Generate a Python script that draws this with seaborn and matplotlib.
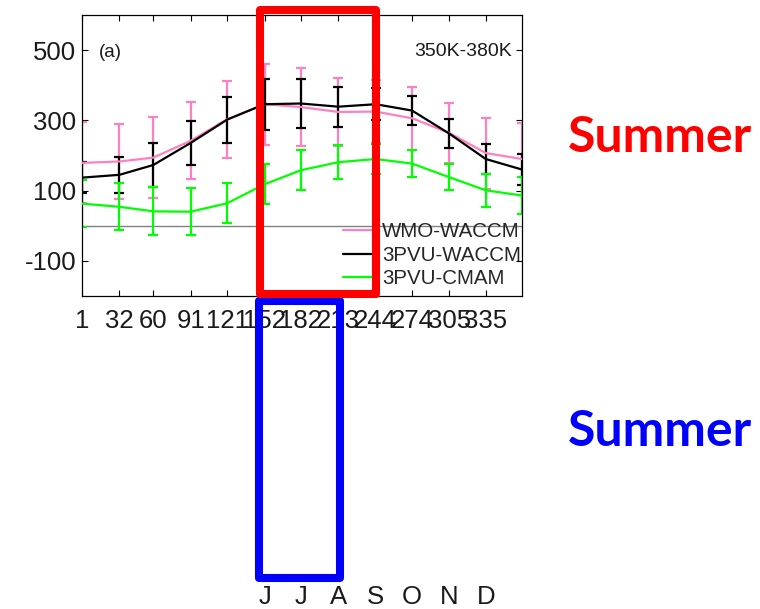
import matplotlib
matplotlib.use("Agg")
import matplotlib.pyplot as plt
from matplotlib.patches import Rectangle
import seaborn as sns

# Day-of-year sample points (first day of each month, plus year end)
days = [1, 32, 60, 91, 121, 152, 182, 213, 244, 274, 305, 335, 365]

# Monthly mean values and error half-widths for each series
wmo_waccm_mean = [179, 183, 194, 242, 303, 346, 338, 324, 325, 306, 264, 207, 190]
wmo_waccm_err = [115, 108, 116, 110, 110, 115, 112, 97, 90, 89, 86, 101, 103]
pvu_waccm_mean = [137, 145, 173, 236, 302, 346, 348, 339, 346, 328, 262, 190, 160]
pvu_waccm_err = [45, 51, 62, 63, 65, 73, 70, 57, 45, 41, 42, 44, 44]
pvu_cmam_mean = [63, 54, 41, 40, 64, 118, 158, 181, 190, 177, 138, 101, 86]
pvu_cmam_err = [66, 67, 68, 67, 57, 57, 57, 48, 42, 38, 37, 47, 53]

series_names = ["WMO-WACCM", "3PVU-WACCM", "3PVU-CMAM"]
series_colors = ["#FF80C0", "#000000", "#00FF00"]

# Axis ticks and labels
xtick_days = [1, 32, 60, 91, 121, 152, 182, 213, 244, 274, 305, 335]
xtick_labels = ["1", "32", "60", "91", "121", "152", "182", "213", "244", "274", "305", "335"]
ytick_values = [-100, 100, 300, 500]
ytick_labels = ["-100", "100", "300", "500"]
month_days = [152, 182, 213, 244, 274, 305, 335]
month_labels = ["J", "J", "A", "S", "O", "N", "D"]

sns.set_theme(style="ticks")
plt.rcParams["font.family"] = ["Liberation Sans", "DejaVu Sans"]
plt.rcParams["axes.unicode_minus"] = False

W, H = 760, 609
fig = plt.figure(figsize=(W / 100, H / 100), dpi=100)
fig.patch.set_facecolor("white")


def fx(px):
    return px / W


def fy(py):
    return 1 - py / H


ax = fig.add_axes([fx(82), fy(296), fx(522) - fx(82), fy(15) - fy(296)])
ax.set_facecolor("white")

ax.axhline(0, color="#808080", lw=1.0, zorder=1)

means = [wmo_waccm_mean, pvu_waccm_mean, pvu_cmam_mean]
errs = [wmo_waccm_err, pvu_waccm_err, pvu_cmam_err]
for name, color, m, e in zip(series_names, series_colors, means, errs):
    ax.errorbar(days, m, yerr=e, fmt="none", ecolor=color, elinewidth=1.6,
                capsize=3.3, capthick=1.6, zorder=2)
    sns.lineplot(x=days, y=m, color=color, lw=1.6, ax=ax, label=name, zorder=3)

ax.set_xlim(1, 365)
ax.set_ylim(-200, 600)
ax.set_xticks(xtick_days)
ax.set_xticklabels(xtick_labels)
ax.set_yticks(ytick_values)
ax.set_yticklabels(ytick_labels)
ax.set_xlabel("")
ax.set_ylabel("")
ax.tick_params(axis="both", direction="in", length=4.5, width=0.8, color="black",
               labelsize=18.5, labelcolor="#1a1a1a", top=True, right=True)
ax.tick_params(axis="x", pad=9.5)
ax.tick_params(axis="y", pad=4)
for sp in ax.spines.values():
    sp.set_visible(True)
    sp.set_color("black")
    sp.set_linewidth(0.9)

ax.text(0.039, 0.866, "(a)", transform=ax.transAxes, fontsize=13.5,
        ha="left", va="center", color="#1a1a1a")
ax.text(0.977, 0.869, "350K-380K", transform=ax.transAxes, fontsize=14,
        ha="right", va="center", color="#1a1a1a")

ax.legend(loc="upper left", bbox_to_anchor=(0.593, 0.262), frameon=False,
          handlelength=1.5, handletextpad=0.4, labelspacing=0.22,
          borderpad=0, borderaxespad=0, fontsize=14.8)

# Month labels along a bare axis under the highlighted summer months
ax2 = fig.add_axes([fx(82), fy(578), fx(522) - fx(82), 0.001])
ax2.set_xlim(1, 365)
ax2.set_xticks(month_days)
ax2.set_xticklabels(month_labels)
ax2.set_yticks([])
ax2.tick_params(axis="x", length=0, pad=5, labelsize=18.5, labelcolor="#1a1a1a")
for sp in ax2.spines.values():
    sp.set_visible(False)
ax2.patch.set_visible(False)

# Highlight boxes
blue_box = Rectangle((fx(259), fy(578)), fx(340) - fx(259), fy(301) - fy(578),
                     fill=False, edgecolor="#0000FF", lw=5.8, joinstyle="round",
                     transform=fig.transFigure, zorder=10)
red_box = Rectangle((fx(260), fy(294)), fx(376) - fx(260), fy(10) - fy(294),
                    fill=False, edgecolor="#FF0000", lw=5.8, joinstyle="round",
                    transform=fig.transFigure, zorder=11)
fig.add_artist(blue_box)
fig.add_artist(red_box)

fig.text(fx(660), fy(137), "Summer", color="#FF0000", fontsize=36,
         fontweight="bold", family=["Lato", "DejaVu Sans"], ha="center", va="center")
fig.text(fx(660), fy(432), "Summer", color="#0000FF", fontsize=36,
         fontweight="bold", family=["Lato", "DejaVu Sans"], ha="center", va="center")

fig.savefig("out.png", dpi=100)
